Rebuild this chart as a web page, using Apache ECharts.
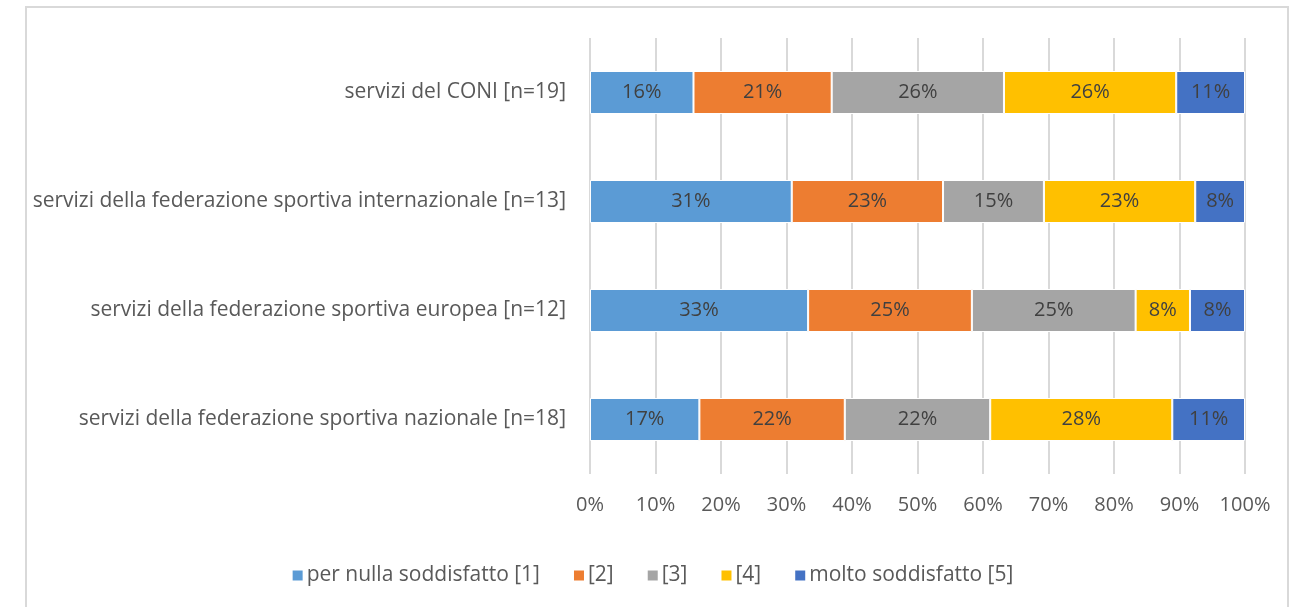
<!DOCTYPE html>
<html>
<head>
<meta charset="UTF-8">
<title>Soddisfazione servizi</title>
<script src="https://cdn.jsdelivr.net/npm/echarts@6/dist/echarts.min.js"></script>
<style>
  html, body { margin: 0; padding: 0; background: #fff; }
  #chart { width: 1304px; height: 607px; }
</style>
</head>
<body>
<div id="chart"></div>
<script>
// categorie dal basso verso l'alto
var categories = [
    'servizi della federazione sportiva nazionale [n=18]',
    'servizi della federazione sportiva europea [n=12]',
    'servizi della federazione sportiva internazionale [n=13]',
    'servizi del CONI [n=19]'
];
var seriesNames = ['per nulla soddisfatto [1]', '[2]', '[3]', '[4]', 'molto soddisfatto [5]'];
var colors = ['#5B9BD5', '#ED7D31', '#A5A5A5', '#FFC000', '#4472C4'];
// percentuali per categoria (stesso ordine di categories)
var s1 = [16.7, 33.3, 30.8, 15.8];
var s2 = [22.2, 25.0, 23.1, 21.1];
var s3 = [22.2, 25.0, 15.4, 26.3];
var s4 = [27.8, 8.3, 23.1, 26.3];
var s5 = [11.1, 8.4, 7.6, 10.5];
var xTicks = [0, 10, 20, 30, 40, 50, 60, 70, 80, 90, 100];

var font = '"Open Sans", sans-serif';
var fs = 20;
var myChart = echarts.init(document.getElementById('chart'));

var series = [s1, s2, s3, s4, s5].map(function (d, i) {
    return {
        name: seriesNames[i],
        type: 'bar',
        stack: 'tot',
        barWidth: 43,
        data: d,
        itemStyle: { color: colors[i], borderColor: '#fff', borderWidth: 1 },
        label: {
            show: true,
            position: 'inside',
            color: '#404040',
            fontFamily: font,
            fontSize: fs,
            formatter: function (p) { return Math.round(p.value) + '%'; }
        }
    };
});

var option = {
    animation: false,
    color: colors,
    graphic: [{
        type: 'rect',
        shape: { x: 26, y: 7, width: 1262, height: 700 },
        style: { fill: 'none', stroke: '#d9d9d9', lineWidth: 2 },
        silent: true
    }],
    grid: { left: 590, right: 59, top: 38, bottom: 133, containLabel: false },
    legend: {
        bottom: 16,
        left: 'center',
        itemWidth: 12,
        itemHeight: 12,
        itemGap: 32,
        icon: 'rect',
        textStyle: { color: '#595959', fontFamily: font, fontSize: 21, padding: [0, 0, 0, -2] },
        data: seriesNames
    },
    xAxis: {
        type: 'value',
        min: 0,
        max: 100,
        interval: 10,
        axisLine: { show: false },
        axisTick: { show: false },
        splitLine: { lineStyle: { color: '#d9d9d9', width: 2 } },
        axisLabel: {
            color: '#595959',
            fontFamily: font,
            fontSize: fs,
            margin: 21,
            formatter: function (v) { return xTicks.indexOf(v) >= 0 ? v + '%' : ''; }
        }
    },
    yAxis: {
        type: 'category',
        data: categories,
        axisLine: { show: false },
        axisTick: { show: false },
        axisLabel: { color: '#595959', fontFamily: font, fontSize: 21, margin: 24 }
    },
    series: series
};
myChart.setOption(option);
window.onresize = myChart.resize;
</script>
</body>
</html>
